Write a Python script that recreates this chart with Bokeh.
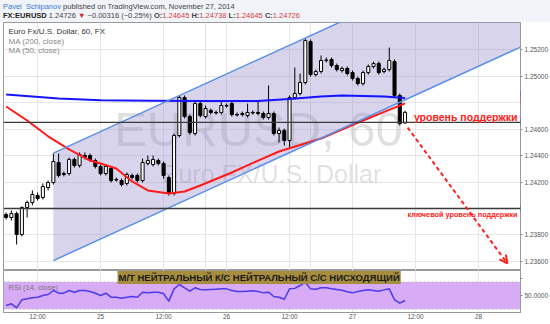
from bokeh.plotting import figure
from bokeh.layouts import column
from bokeh.models import (Range1d, FixedTicker, PrintfTickFormatter, Grid, Span, Label,
                          Arrow, OpenHead, Div, BoxAnnotation, ColumnDataSource, AllLabels)
from bokeh.embed import file_html
from bokeh.resources import INLINE

# ---------------- data (hours from 2014-11-25 00:00, 60-minute candles) ----------------
hours = list(range(-18, 59))
opens = [1.23955, 1.23932, 1.23962, 1.23804, 1.24008, 1.24045, 1.24098, 1.24083, 1.24158, 1.24196,
         1.24347, 1.24264, 1.24264, 1.24370, 1.24325, 1.24400, 1.24400, 1.24362, 1.24317, 1.24264,
         1.24302, 1.24219, 1.24211, 1.24189, 1.24249, 1.24249, 1.24211, 1.24340, 1.24332, 1.24362,
         1.24340, 1.24234, 1.24113, 1.24551, 1.24838, 1.24694, 1.24566, 1.24792, 1.24694, 1.24740,
         1.24725, 1.24725, 1.24777, 1.24792, 1.24709, 1.24709, 1.24702, 1.24725, 1.24725, 1.24717,
         1.24687, 1.24717, 1.24566, 1.24589, 1.24513, 1.24838, 1.24868, 1.24951, 1.25260, 1.25011,
         1.25034, 1.25117, 1.25125, 1.25079, 1.25041, 1.25057, 1.25026, 1.24981, 1.24943, 1.25026,
         1.25072, 1.25094, 1.25034, 1.25049, 1.25109, 1.24853, 1.24645]
highs = [1.23970, 1.23985, 1.23977, 1.24015, 1.24060, 1.24136, 1.24121, 1.24189, 1.24211, 1.24415,
         1.24415, 1.24279, 1.24385, 1.24385, 1.24423, 1.24423, 1.24415, 1.24377, 1.24332, 1.24332,
         1.24317, 1.24234, 1.24226, 1.24272, 1.24264, 1.24264, 1.24377, 1.24400, 1.24400, 1.24377,
         1.24355, 1.24249, 1.24566, 1.24853, 1.24853, 1.24709, 1.24815, 1.24815, 1.24777, 1.24755,
         1.24740, 1.24815, 1.24792, 1.24808, 1.24725, 1.24732, 1.24792, 1.24740, 1.24815, 1.24732,
         1.24928, 1.24732, 1.24611, 1.24604, 1.24853, 1.25064, 1.25019, 1.25283, 1.25275, 1.25049,
         1.25155, 1.25140, 1.25140, 1.25094, 1.25072, 1.25072, 1.25041, 1.24996, 1.25041, 1.25087,
         1.25109, 1.25109, 1.25064, 1.25215, 1.25125, 1.24868, 1.24738]
lows = [1.23917, 1.23909, 1.23728, 1.23789, 1.23932, 1.24023, 1.24060, 1.24068, 1.24136, 1.24181,
        1.24234, 1.24242, 1.24249, 1.24309, 1.24309, 1.24370, 1.24355, 1.24302, 1.24249, 1.24249,
        1.24196, 1.24204, 1.24166, 1.24174, 1.24219, 1.24196, 1.24196, 1.24325, 1.24317, 1.24325,
        1.24226, 1.24098, 1.24098, 1.24536, 1.24679, 1.24558, 1.24551, 1.24687, 1.24679, 1.24709,
        1.24709, 1.24709, 1.24762, 1.24694, 1.24694, 1.24694, 1.24687, 1.24709, 1.24702, 1.24672,
        1.24672, 1.24551, 1.24498, 1.24475, 1.24453, 1.24823, 1.24853, 1.24936, 1.24996, 1.24996,
        1.25019, 1.25102, 1.25064, 1.25034, 1.25026, 1.25004, 1.24966, 1.24928, 1.24928, 1.25011,
        1.25057, 1.25011, 1.25019, 1.25034, 1.24838, 1.24626, 1.24645]
closes = [1.23932, 1.23962, 1.23804, 1.24008, 1.24045, 1.24106, 1.24075, 1.24166, 1.24196, 1.24355,
          1.24249, 1.24257, 1.24370, 1.24325, 1.24408, 1.24385, 1.24370, 1.24317, 1.24264, 1.24317,
          1.24211, 1.24215, 1.24181, 1.24257, 1.24234, 1.24211, 1.24347, 1.24362, 1.24370, 1.24340,
          1.24249, 1.24113, 1.24551, 1.24838, 1.24694, 1.24574, 1.24792, 1.24702, 1.24755, 1.24725,
          1.24721, 1.24777, 1.24774, 1.24709, 1.24706, 1.24717, 1.24725, 1.24721, 1.24717, 1.24687,
          1.24717, 1.24566, 1.24589, 1.24513, 1.24838, 1.24868, 1.24951, 1.25268, 1.25011, 1.25034,
          1.25117, 1.25121, 1.25079, 1.25049, 1.25057, 1.25019, 1.24981, 1.24943, 1.25026, 1.25072,
          1.25094, 1.25026, 1.25049, 1.25117, 1.24853, 1.24641, 1.24726]
rsi = [35.3, 37.8, 31.9, 43.6, 45.1, 46.6, 47.5, 50.0, 51.5, 57.4,
       53.4, 53.4, 57.4, 54.9, 57.4, 57.4, 55.9, 53.4, 50.0, 53.4,
       47.5, 47.5, 46.1, 47.5, 48.5, 47.5, 54.9, 53.9, 54.9, 54.9,
       52.5, 41.7, 59.8, 66.2, 61.3, 56.4, 61.3, 58.8, 58.3, 58.8,
       59.3, 59.8, 59.8, 57.4, 55.9, 55.9, 56.4, 56.9, 55.9, 53.9,
       54.9, 48.5, 47.5, 44.5, 59.8, 60.5, 64.7, 69.6, 59.8, 59.3,
       61.3, 61.3, 59.8, 58.8, 57.8, 55.4, 53.9, 55.9, 57.4, 58.3,
       57.4, 56.4, 58.3, 59.8, 43.6, 38.7, 42.6]

ma200_h = [-18, -8, 0, 10, 20, 30, 36, 42, 46, 54, 58]
ma200_v = [1.24860, 1.24831, 1.24817, 1.24813, 1.24811, 1.24811, 1.24826, 1.24845, 1.24853, 1.24845, 1.24835]
ma50_h = [-18, -14, -10, -6, -2, 0, 3, 6, 9, 13, 16, 19, 25, 30, 34, 42, 50, 58]
ma50_v = [1.24770, 1.24664, 1.24545, 1.24446, 1.24362, 1.24340, 1.24302, 1.24204, 1.24136, 1.24113,
          1.24128, 1.24174, 1.24272, 1.24362, 1.24430, 1.24528, 1.24664, 1.24794]

chan_h = [-9.0, 80.0]
chan_upper = [1.24418, 1.26029]
chan_lower = [1.23607, 1.25218]

support_level = 1.24650
key_support_level = 1.24000
arrow_from = (58.5, 1.24611)
arrow_to = (77.5, 1.23585)

time_ticks = [-12, 0, 12, 24, 36, 48, 60, 72]
time_labels = ["12:00", "25", "12:00", "26", "12:00", "27", "12:00", "28"]
price_grid = [1.236, 1.238, 1.240, 1.242, 1.244, 1.246, 1.248, 1.250, 1.252]
price_ticks = [1.236, 1.238, 1.242, 1.244, 1.246, 1.250, 1.252]
rsi_ticks = [50, 75]

FONT = "Liberation Sans"
GRID = "#e6e6e6"
FRAME = "#9a9a9a"

# ---------------- header ----------------
red = "#d84040"
header_html = (
    '<div style="font-family:\'Liberation Sans\',Arial,sans-serif;font-size:7.5px;line-height:9px;'
    'color:#444;padding:2px 0 0 3px;white-space:nowrap">'
    '<span style="color:#3a7bd5">Pavel&nbsp;&nbsp;Schipanov</span> published on TradingView.com, November 27, 2014<br>'
    '<b style="color:#222">FX:EURUSD</b> 1.24726 <span style="color:#c62828">&#9660;</span> '
    '&minus;0.00316 (&minus;0.25%) '
    f'<b>O:</b><span style="color:{red}">1.24645</span> '
    f'<b>H:</b><span style="color:{red}">1.24738</span> '
    f'<b>L:</b><span style="color:{red}">1.24645</span> '
    f'<b>C:</b><span style="color:{red}">1.24726</span>'
    '</div>')
hdr = Div(text=header_html, width=550, height=22, margin=(0, 0, 0, 0),
          styles={"background-color": "#f0f3f8"})

# ---------------- main price pane ----------------
x_range = Range1d(-18.5, 80.0)
p = figure(frame_width=517, frame_height=248, x_range=x_range, y_range=Range1d(1.23532, 1.25404),
           x_axis_location=None, y_axis_location="right",
           toolbar_location=None, output_backend="svg",
           min_border_left=3, min_border_right=30, min_border_top=0, min_border_bottom=0)
p.outline_line_color = FRAME
p.background_fill_color = "white"
p.border_fill_color = "white"
p.yaxis.ticker = FixedTicker(ticks=price_ticks)
p.yaxis.formatter = PrintfTickFormatter(format="%.5f")
p.yaxis.major_label_policy = AllLabels()
p.yaxis.major_label_text_font = FONT
p.yaxis.major_label_text_font_size = "6.5px"
p.yaxis.major_label_text_color = "#555"
p.yaxis.major_label_standoff = 2
p.yaxis.major_tick_out = 2
p.yaxis.major_tick_in = 0
p.yaxis.minor_tick_line_color = None
p.yaxis.axis_line_color = FRAME
p.yaxis.major_tick_line_color = "#888"
p.ygrid.ticker = FixedTicker(ticks=price_grid)
p.ygrid.grid_line_color = GRID
p.add_layout(Grid(dimension=0, ticker=FixedTicker(ticks=time_ticks), grid_line_color=GRID))

# channel fill and watermark
patch_x = [chan_h[0], chan_h[1], chan_h[1], chan_h[0]]
patch_y = [chan_lower[0], chan_lower[1], chan_upper[1], chan_upper[0]]
p.patch(patch_x, patch_y, fill_color="#8e84c8", fill_alpha=0.35, line_color=None)

p.add_layout(Label(x=255, y=142, x_units="screen", y_units="screen", text="EURUSD, 60",
                   text_font=FONT, text_font_size="49px", text_color="#a0a0a0", text_alpha=0.32,
                   text_align="center", text_baseline="middle", level="underlay"))
p.add_layout(Label(x=268, y=97, x_units="screen", y_units="screen", text="Euro FX/U.S. Dollar",
                   text_font=FONT, text_font_size="25px", text_color="#a0a0a0", text_alpha=0.32,
                   text_align="center", text_baseline="middle", level="underlay"))

# candles
up = [c >= o for o, c in zip(opens, closes)]
src = ColumnDataSource(dict(
    h=hours, hi=highs, lo=lows,
    top=[max(o, c) for o, c in zip(opens, closes)],
    bot=[min(o, c) for o, c in zip(opens, closes)],
    fill=["white" if u else "black" for u in up]))
p.segment(x0="h", y0="lo", x1="h", y1="hi", source=src, line_color="black", line_width=1)
p.vbar(x="h", top="top", bottom="bot", width=0.58, source=src, fill_color="fill",
       line_color="black", line_width=1)

# moving averages
p.line(ma200_h, ma200_v, line_color="#1414ff", line_width=2, line_join="round")
p.line(ma50_h, ma50_v, line_color="#ff1a1a", line_width=2, line_join="round")

# channel lines
p.line(chan_h, chan_upper, line_color="#5b8fe6", line_width=1.5)
p.line(chan_h, chan_lower, line_color="#5b8fe6", line_width=1.5)

# support lines
p.add_layout(Span(location=support_level, dimension="width", line_color="#3a3a3a", line_width=1.4))
p.add_layout(Span(location=key_support_level, dimension="width", line_color="#3a3a3a", line_width=1.4))

# arrow
p.add_layout(Arrow(end=OpenHead(size=8, line_color="#ff2020", line_width=2),
                   x_start=arrow_from[0], y_start=arrow_from[1],
                   x_end=arrow_to[0], y_end=arrow_to[1],
                   line_color="#ff2020", line_width=2, line_dash="4 3"))

# annotation texts
p.add_layout(Label(x=514, y=1.24694, x_units="screen", text="уровень поддержки",
                   text_font=FONT, text_font_size="10.5px", text_font_style="bold",
                   text_color="#ff2020", text_align="right", text_baseline="middle"))
p.add_layout(Label(x=514, y=1.23955, x_units="screen", text="ключевой уровень поддержки",
                   text_font=FONT, text_font_size="7.3px", text_font_style="bold",
                   text_color="#ff2020", text_align="right", text_baseline="middle"))

# legend (top-left)
p.add_layout(Label(x=5, y=239, x_units="screen", y_units="screen", text="Euro Fx/U.S. Dollar, 60, FX",
                   text_font=FONT, text_font_size="8px", text_color="#333", text_baseline="middle"))
p.add_layout(Label(x=5, y=229.5, x_units="screen", y_units="screen", text="MA (200, close)",
                   text_font=FONT, text_font_size="8px", text_color="#888", text_baseline="middle"))
p.add_layout(Label(x=5, y=220, x_units="screen", y_units="screen", text="MA (50, close)",
                   text_font=FONT, text_font_size="8px", text_color="#888", text_baseline="middle"))

# price-axis boxes
def axis_box(fig, val, txt, bg, fg, dy=0):
    fig.add_layout(Label(x=517, y=val, x_units="screen", y_offset=dy, text=txt,
                         text_font=FONT, text_font_size="6.5px", text_color=fg,
                         text_align="left", text_baseline="middle",
                         background_fill_color=bg, padding=1))

axis_box(p, ma200_v[-1], "1.24835", "#1414ff", "white", dy=4)
axis_box(p, ma50_v[-1], "1.24794", "#ff1a1a", "white", dy=2)
axis_box(p, closes[-1], " 1.24726", None, "#333", dy=1)
axis_box(p, support_level, "1.24650", "#3a3a3a", "white", dy=1)
axis_box(p, key_support_level, "1.24000", "#3a3a3a", "white")

# ---------------- RSI pane ----------------
r = figure(frame_width=517, frame_height=42, x_range=x_range, y_range=Range1d(25, 86.8),
           y_axis_location="right", toolbar_location=None, output_backend="svg",
           min_border_left=3, min_border_right=30, min_border_top=0, min_border_bottom=11)
r.outline_line_color = FRAME
r.border_fill_color = "white"
r.add_layout(BoxAnnotation(bottom=30, top=70, fill_color="#d8abf7", fill_alpha=1.0,
                           line_color=None, level="underlay"))
r.add_layout(Span(location=70, dimension="width", line_color="#bdbdbd", line_dash="2 2", line_width=1))
r.add_layout(Span(location=30, dimension="width", line_color="#bdbdbd", line_dash="2 2", line_width=1))
r.line(hours, rsi, line_color="#4a3af0", line_width=1.5, line_join="round")

r.yaxis.ticker = FixedTicker(ticks=rsi_ticks)
r.yaxis.formatter = PrintfTickFormatter(format="%.4f")
r.yaxis.major_label_overrides = {75: " "}
r.yaxis.major_label_policy = AllLabels()
r.yaxis.major_label_text_font = FONT
r.yaxis.major_label_text_font_size = "6.5px"
r.yaxis.major_label_text_color = "#555"
r.yaxis.major_label_standoff = 2
r.yaxis.major_tick_out = 2
r.yaxis.major_tick_in = 0
r.yaxis.minor_tick_line_color = None
r.yaxis.axis_line_color = FRAME
r.yaxis.major_tick_line_color = "#888"
r.ygrid.grid_line_color = None
r.add_layout(Label(x=521, y=31, x_units="screen", y_units="screen", text="75.0000",
                   text_font=FONT, text_font_size="6.5px", text_color="#555",
                   text_align="left", text_baseline="middle", level="overlay"))

r.xaxis.ticker = FixedTicker(ticks=time_ticks)
r.xaxis.major_label_overrides = {t: lab for t, lab in zip(time_ticks, time_labels)}
r.xaxis.major_label_policy = AllLabels()
r.xaxis.major_label_text_font = FONT
r.xaxis.major_label_text_font_size = "6.5px"
r.xaxis.major_label_text_color = "#555"
r.xaxis.major_label_standoff = 0
r.xaxis.major_tick_out = 0
r.xaxis.major_tick_in = 0
r.xaxis.major_tick_line_color = None
r.xaxis.minor_tick_line_color = None
r.xaxis.axis_line_color = FRAME
r.xgrid.ticker = FixedTicker(ticks=time_ticks)
r.xgrid.grid_line_color = GRID

r.add_layout(Label(x=5, y=25, x_units="screen", y_units="screen", text="RSI (14, close)",
                   text_font=FONT, text_font_size="7.5px", text_color="#777", text_baseline="middle"))
r.add_layout(Label(x=114, y=35, x_units="screen", y_units="screen",
                   text="М/Т НЕЙТРАЛЬНЫЙ К/С НЕЙТРАЛЬНЫЙ С/С НИСХОДЯЩИЙ",
                   text_font=FONT, text_font_size="9.5px", text_font_style="bold",
                   text_color="#1a1a1a", text_align="left", text_baseline="middle",
                   background_fill_color="#a68d3e", padding=1))

layout = column(hdr, p, r, spacing=0)
open("out.html", "w").write(file_html(layout, INLINE))
